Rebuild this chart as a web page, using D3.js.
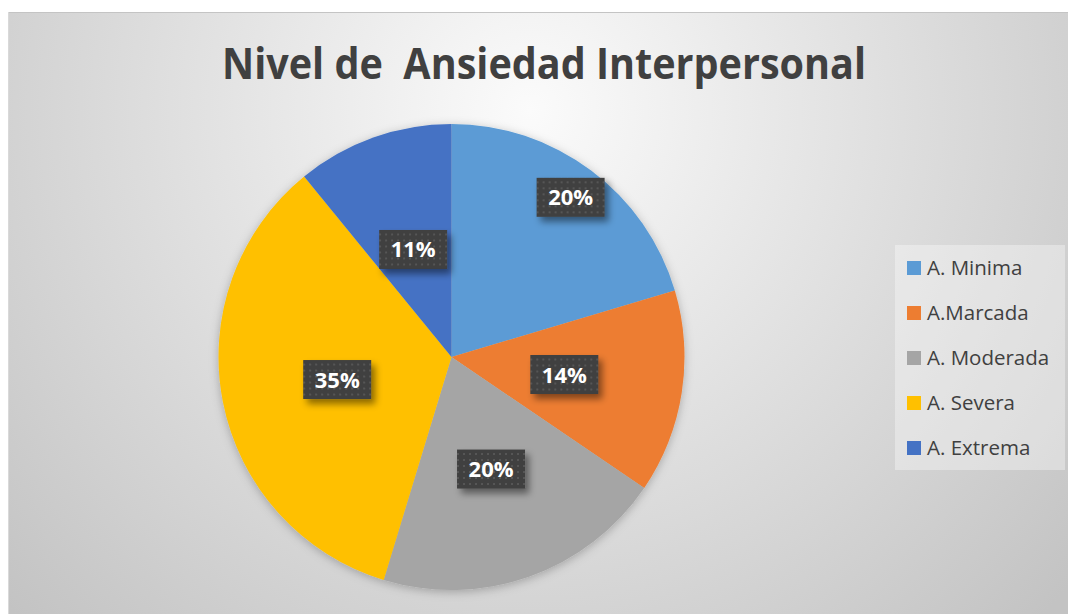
<!DOCTYPE html>
<html><head><meta charset="utf-8">
<script src="https://cdn.jsdelivr.net/npm/d3@7"></script>
<style>html,body{margin:0;padding:0;background:#fff;}svg{display:block;}</style>
</head><body>
<script>
const categories = ["A. Minima", "A.Marcada", "A. Moderada", "A. Severa", "A. Extrema"];
const values = [20.4, 14.1, 20.2, 34.4, 10.9];
const valueLabels = ["20%", "14%", "20%", "35%", "11%"];
const colors = ["#5B9BD5", "#ED7D31", "#A5A5A5", "#FFC000", "#4472C4"];
const title = "Nivel de  Ansiedad Interpersonal";

// layout (not data)
const W = 1068, H = 614;
const cx = 451.5, cy = 357, R = 233;
const labelRadiusFrac = [0.855, 0.49, 0.51, 0.50, 0.49];

const svg = d3.select("body").append("svg").attr("width", W).attr("height", H);
const defs = svg.append("defs");

const grad = defs.append("radialGradient").attr("id", "bg")
  .attr("gradientUnits", "userSpaceOnUse")
  .attr("cx", 530).attr("cy", 110).attr("r", 720);
grad.append("stop").attr("offset", "0%").attr("stop-color", "#fbfbfb");
grad.append("stop").attr("offset", "100%").attr("stop-color", "#c3c3c3");

const pat = defs.append("pattern").attr("id", "dots")
  .attr("patternUnits", "userSpaceOnUse").attr("width", 6).attr("height", 6);
pat.append("rect").attr("width", 6).attr("height", 6).attr("fill", "#3f3f3f");
pat.append("rect").attr("x", 2).attr("y", 2).attr("width", 2).attr("height", 2).attr("fill", "#575757");

const sh = defs.append("filter").attr("id", "lblShadow").attr("x", "-30%").attr("y", "-30%").attr("width", "160%").attr("height", "170%");
sh.append("feDropShadow").attr("dx", 4).attr("dy", 5).attr("stdDeviation", 3.5)
  .attr("flood-color", "#000").attr("flood-opacity", 0.45);

const psh = defs.append("filter").attr("id", "pieShadow").attr("x", "-20%").attr("y", "-20%").attr("width", "140%").attr("height", "140%");
psh.append("feDropShadow").attr("dx", 0).attr("dy", 2).attr("stdDeviation", 5)
  .attr("flood-color", "#000").attr("flood-opacity", 0.25);

// chart area
svg.append("rect").attr("x", 8).attr("y", 12).attr("width", W - 8).attr("height", H - 12)
  .attr("fill", "url(#bg)");
svg.append("line").attr("x1", 8).attr("x2", W).attr("y1", 12.5).attr("y2", 12.5)
  .attr("stroke", "#c4c4c4").attr("stroke-width", 1);
svg.append("line").attr("x1", 8.5).attr("x2", 8.5).attr("y1", 12).attr("y2", H)
  .attr("stroke", "#d9d9d9").attr("stroke-width", 1);

// title
svg.append("text").attr("x", 544).attr("y", 79)
  .attr("text-anchor", "middle")
  .attr("font-family", "'Open Sans', 'Noto Sans', sans-serif")
  .attr("font-weight", "bold").attr("font-size", 43)
  .attr("fill", "#404040")
  .style("white-space", "pre")
  .attr("textLength", 644).attr("lengthAdjust", "spacingAndGlyphs")
  .text(title);

// pie
const pie = d3.pie().sort(null).value(d => d.v);
const data = pie(values.map((v, i) => ({ v, i })));
const arc = d3.arc().innerRadius(0).outerRadius(R);
const g = svg.append("g").attr("transform", `translate(${cx},${cy})`);
g.append("g").attr("filter", "url(#pieShadow)")
  .selectAll("path").data(data).join("path")
  .attr("d", arc)
  .attr("fill", d => colors[d.data.i]);

// labels
const lg = g.append("g");
data.forEach((d, k) => {
  const a = (d.startAngle + d.endAngle) / 2;
  const r = labelRadiusFrac[k] * R;
  const x = r * Math.sin(a), y = -r * Math.cos(a);
  const grp = lg.append("g").attr("transform", `translate(${x},${y})`);
  const bw = 68, bh = 39;
  grp.append("rect").attr("x", -bw / 2).attr("y", -bh / 2).attr("width", bw).attr("height", bh)
    .attr("fill", "url(#dots)").attr("filter", "url(#lblShadow)");
  grp.append("text").attr("text-anchor", "middle").attr("y", 8)
    .attr("font-family", "'Open Sans', 'Noto Sans', sans-serif")
    .attr("font-weight", "bold").attr("font-size", 22)
    .attr("fill", "#ffffff")
    .text(valueLabels[k]);
});

// legend
const leg = svg.append("g");
leg.append("rect").attr("x", 895).attr("y", 245).attr("width", 170).attr("height", 225)
  .attr("fill", "#ffffff").attr("fill-opacity", 0.35);
const ly = d3.scalePoint().domain(categories).range([268, 448]);
categories.forEach((c, i) => {
  leg.append("rect").attr("x", 907).attr("y", ly(c) - 7).attr("width", 14).attr("height", 14)
    .attr("fill", colors[i]);
  leg.append("text").attr("x", 927).attr("y", ly(c) + 7)
    .attr("font-family", "'Open Sans', 'Noto Sans', sans-serif")
    .attr("font-size", 20.5).attr("fill", "#404040")
    .text(c);
});
</script>
</body></html>
